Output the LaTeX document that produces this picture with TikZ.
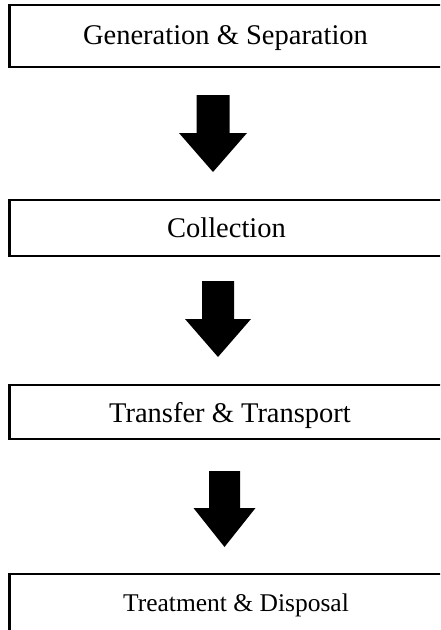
\documentclass[tikz,border=0pt]{standalone}
\usepackage{fontspec}
\setmainfont{Liberation Serif}
\begin{document}
\begin{tikzpicture}[x=1pt,y=-1pt,
  stagebox/.style={draw=black, line width=2.2pt, rectangle, inner sep=0pt, anchor=center},
  stagetext/.style={font=\fontsize{28.5}{34}\selectfont, inner sep=0pt, anchor=center},
  blockarrow/.style={fill=black, draw=none}]
\useasboundingbox (0,0) rectangle (440,630);
\clip (0,0) rectangle (440,630);
% boxes
\node[stagebox, minimum width=433pt, minimum height=62pt] (b1) at (226,36) {};
\node[stagebox, minimum width=434pt, minimum height=56pt] (b2) at (226.5,227.6) {};
\node[stagebox, minimum width=441pt, minimum height=54pt] (b3) at (230,412) {};
\node[stagebox, minimum width=453pt, minimum height=62pt] (b4) at (236,605) {};
% texts
\node[stagetext] (t1) at (225.5,38.5) {Generation \& Separation};
\node[stagetext] (t2) at (226.5,228) {Collection};
\node[stagetext] (t3) at (230,415) {Transfer \& Transport};
\node[stagetext, font=\fontsize{25.5}{30}\selectfont] (t4) at (236,605) {Treatment \& Disposal};
% block arrows
\fill[blockarrow] (196.5,95) -- (229.5,95) -- (229.5,133) -- (247,133) -- (213,172) -- (179,133) -- (196.5,133) -- cycle;
\fill[blockarrow] (202,281) -- (234,281) -- (234,319) -- (251,319) -- (218,357) -- (185,319) -- (202,319) -- cycle;
\fill[blockarrow] (209,471) -- (240,471) -- (240,508) -- (255.5,508) -- (224.5,547) -- (193.5,508) -- (209,508) -- cycle;
\end{tikzpicture}
\end{document}
